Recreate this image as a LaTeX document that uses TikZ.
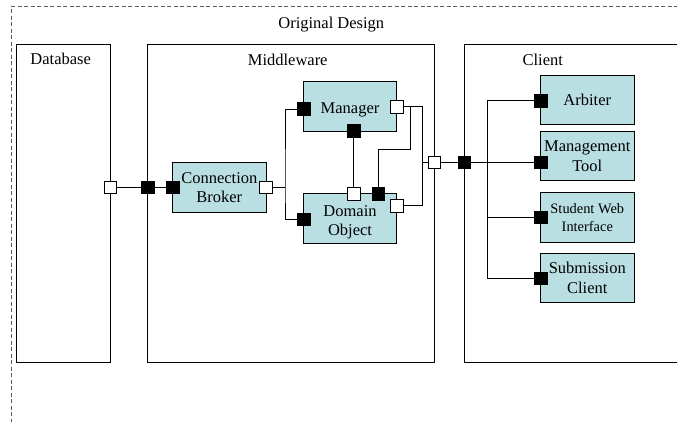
\documentclass[tikz,border=0pt]{standalone}
\usepackage{fontspec}
\setmainfont{Liberation Serif}
\definecolor{compfill}{RGB}{185,223,227}
\definecolor{framegray}{RGB}{90,90,90}
\begin{document}
\begin{tikzpicture}[x=1pt,y=-1pt,
  frame/.style={draw=framegray, line width=0.8pt, dash pattern=on 4pt off 2.5pt, inner sep=0},
  container/.style={draw=black, line width=0.9pt, inner sep=0},
  comp/.style={draw=black, line width=0.9pt, fill=compfill, minimum width=93.5pt,
    minimum height=49.5pt, inner sep=0, align=center,
    font=\fontsize{16.5}{19.5}\selectfont},
  smallcomp/.style={comp, font=\fontsize{14.4}{18}\selectfont},
  complabel/.style={inner sep=0, align=center, font=\fontsize{16.5}{19.5}\selectfont},
  portw/.style={draw=black, line width=0.8pt, fill=white, minimum size=12.5pt, inner sep=0},
  portb/.style={portw, fill=black},
  wire/.style={line width=0.9pt},
  title/.style={font=\fontsize{16.5}{19.5}\selectfont, inner sep=0}
]
\useasboundingbox (0,0) rectangle (677,422);
\clip (0,0) rectangle (677,422);

% outer dashed frame (runs past the right and bottom edges)
\node[frame, minimum width=689pt, minimum height=433pt] (design) at (355.5,223.4) {};
\node[title] (tdesign) at (331.3,25) {Original Design};

% tiers
\node[container, minimum width=93.6pt, minimum height=318pt] (db) at (63.5,203) {};
\node[container, minimum width=286.6pt, minimum height=318pt] (mw) at (291,203) {};
\node[container, minimum width=240pt, minimum height=318pt] (cl) at (584.3,203) {};
\node[title] (tdb) at (60.7,59.3) {Database};
\node[title] (tmw) at (287.7,60) {Middleware};
\node[title] (tcl) at (542.8,60) {Client};

% middleware components
\node[comp] (cb)  at (219.3,187.5) {Connection\\Broker};
\node[comp] (mgr) at (350,106.3) {};
\node[complabel] (mgrtext) at ([yshift=-4pt]mgr.center) {Manager};
\node[comp] (dob) at (350,218.7) {};
\node[complabel] (dobtext) at ([yshift=-3.5pt]dob.center) {Domain\\Object};

% client components
\node[comp] (arb) at (587.3,100.2) {Arbiter};
\node[comp] (mt)  at (587.3,156.2) {Management\\Tool};
\node[smallcomp] (swi) at (587.3,217.7) {Student Web\\Interface};
\node[comp] (sc)  at (587.3,277.8) {Submission\\Client};

% ports
\node[portw] (p1)  at (110.3,187.5) {};
\node[portb] (p2)  at (147.7,187.5) {};
\node[portb] (p3)  at (172.7,187.5) {};
\node[portw] (p4)  at (266,187.5) {};
\node[portb] (p5)  at (303.7,109) {};
\node[portw] (p6)  at (397,106.7) {};
\node[portb] (p7)  at (353.7,131) {};
\node[portw] (p8)  at (353.7,194) {};
\node[portb] (p9)  at (378.3,194) {};
\node[portb] (p10) at (303.7,219.3) {};
\node[portw] (p11) at (397,205.7) {};
\node[portw] (p12) at (434.3,162.3) {};
\node[portb] (p13) at (464.3,162.3) {};
\node[portb] (p14) at (540.7,100.7) {};
\node[portb] (p15) at (540.7,162.3) {};
\node[portb] (p16) at (540.7,217.3) {};
\node[portb] (p17) at (540.7,278.3) {};

% junction points
\coordinate (j1) at (285,187.5);
\coordinate (j2) at (410,149);
\coordinate (j3) at (422.3,162.3);
\coordinate (j4) at (487.7,162.3);

% wiring
\draw[wire] (p1.east) -- (p2.west);
\draw[wire] (p2.east) -- (p3.west);
\draw[wire] (p4.east) -- (j1);
\draw[wire] (p5.west) -| (j1) |- (p10.west);
\draw[wire] (p7) -- (p8);
\draw[wire] (p6.east) -| (j2) -| (p9.north);
\draw[wire] (p6.east) -| (j3) |- (p11.east);
\draw[wire] (j3) -- (p12.west);
\draw[wire] (p12.east) -- (p13.west);
\draw[wire, line width=1.3pt] (p13.east) -- (j4);
\draw[wire] (j4) -- (p15.west);
\draw[wire] (p14.west) -| (j4) |- (p17.west);
\draw[wire] (j4) |- (p16.west);
\end{tikzpicture}
\end{document}
